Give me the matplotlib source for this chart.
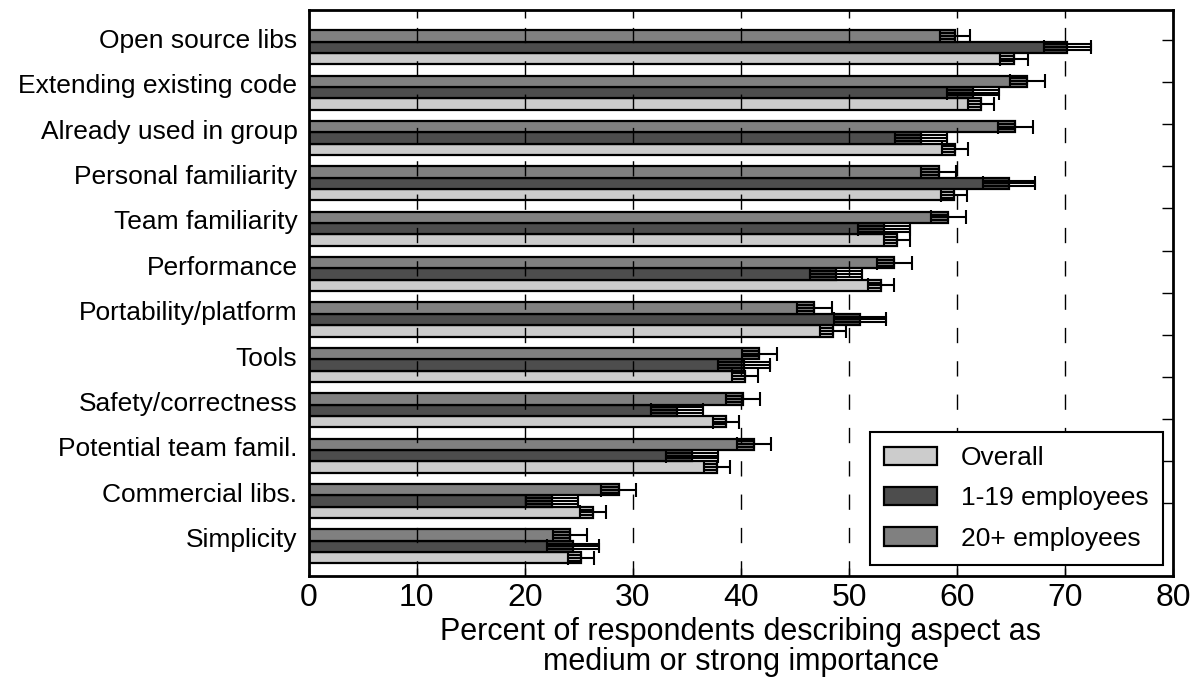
import matplotlib
matplotlib.use("Agg")
import matplotlib.pyplot as plt
import numpy as np

plt.rcParams['font.family'] = ['Liberation Sans', 'DejaVu Sans']

categories = ["Open source libs", "Extending existing code", "Already used in group",
              "Personal familiarity", "Team familiarity", "Performance",
              "Portability/platform", "Tools", "Safety/correctness",
              "Potential team famil.", "Commercial libs.", "Simplicity"]

overall = [65.3, 62.2, 59.8, 59.7, 54.4, 53.0, 48.5, 40.4, 38.6, 37.8, 26.3, 25.2]
overall_err = [1.3, 1.2, 1.2, 1.2, 1.2, 1.2, 1.2, 1.2, 1.2, 1.2, 1.2, 1.2]
small = [70.2, 61.5, 56.7, 64.8, 53.2, 48.8, 51.0, 40.3, 34.1, 35.5, 22.5, 24.5]
small_err = [2.2, 2.4, 2.4, 2.4, 2.4, 2.4, 2.4, 2.4, 2.4, 2.4, 2.4, 2.4]
large = [59.8, 66.5, 65.4, 58.3, 59.2, 54.2, 46.8, 41.7, 40.2, 41.2, 28.7, 24.2]
large_err = [1.4, 1.6, 1.6, 1.6, 1.6, 1.6, 1.6, 1.6, 1.6, 1.6, 1.6, 1.6]

series_labels = ["Overall", "1-19 employees", "20+ employees"]
colors = ["#cccccc", "#4d4d4d", "#808080"]
xticks = [0, 10, 20, 30, 40, 50, 60, 70, 80]

fig = plt.figure(figsize=(11.96, 6.81), dpi=100)
ax = fig.add_axes([0.258, 0.154, 0.723, 0.831])

n = len(categories)
idx = np.arange(n)
h = 0.25
offsets = [0.625, 0.375, 0.125]  # overall, 1-19, 20+
data = [(overall, overall_err), (small, small_err), (large, large_err)]

handles = []
for k, ((vals, errs), col) in enumerate(zip(data, colors)):
    y = idx + offsets[k]
    b = ax.barh(y, vals, height=h, color=col, edgecolor='black', linewidth=1.6,
                zorder=2, label=series_labels[k])
    handles.append(b)
    vals_a = np.array(vals)
    errs_a = np.array(errs)
    if k == 1:
        ax.barh(y, 2 * errs_a, left=vals_a - errs_a, height=h * 0.5, fill=False,
                edgecolor='black', linewidth=1.5, zorder=4)
    else:
        ax.barh(y, errs_a, left=vals_a - errs_a, height=h * 0.5, fill=False,
                edgecolor='black', linewidth=1.5, zorder=4)
    ax.errorbar(vals_a, y, xerr=errs_a, fmt='none', ecolor='black',
                elinewidth=1.5, capsize=5, capthick=1.5, zorder=5)

ax.set_xlim(0, 80)
ax.set_ylim(12.03, -0.44)
ax.set_xticks(xticks)
ax.tick_params(axis='x', direction='in', top=True, bottom=True, length=6,
               width=1, labelsize=23, pad=5)
ax.set_yticks(idx + 0.18)
ax.set_yticklabels(categories, fontsize=19)
ax.tick_params(axis='y', length=0, pad=8)

for x in xticks[1:-1]:
    ax.axvline(x, color='black', linewidth=1, dashes=(11, 13), zorder=3)

for s in ax.spines.values():
    s.set_linewidth(2)

ax.set_xlabel("Percent of respondents describing aspect as\nmedium or strong importance",
              fontsize=22, labelpad=3, linespacing=0.98)

tw = ax.twinx()
tw.set_ylim(ax.get_ylim())
tw.set_yticks([0.22 + 0.927 * j for j in range(12)])
tw.set_yticklabels([])
tw.tick_params(axis='y', direction='in', length=8, width=1)
for s in tw.spines.values():
    s.set_visible(False)

leg = ax.legend(handles=handles, loc='lower right', fontsize=19, frameon=True,
                fancybox=False, edgecolor='black', framealpha=1,
                handlelength=2.0, handleheight=0.7, borderpad=0.55,
                labelspacing=0.62, handletextpad=0.9, borderaxespad=0,
                bbox_to_anchor=(0.988, 0.019))
leg.get_frame().set_linewidth(1.5)
leg.set_zorder(10)

fig.savefig("out.png", dpi=100)
